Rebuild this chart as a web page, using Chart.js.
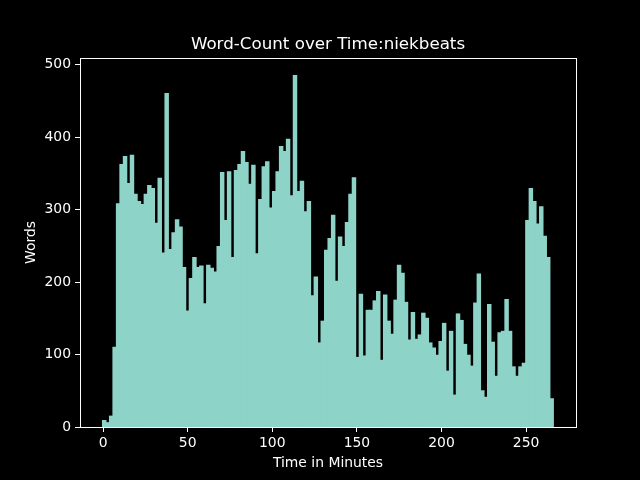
<!DOCTYPE html>
<html>
<head>
<meta charset="utf-8">
<script src="https://cdn.jsdelivr.net/npm/chart.js@4/dist/chart.umd.min.js"></script>
<style>
  html, body { margin: 0; padding: 0; background: #000; }
  canvas { display: block; }
</style>
</head>
<body>
<canvas id="chart" width="640" height="480"></canvas>
<script>
// words per bin
const counts = [
  9, 6, 15, 110, 308, 362, 373, 336, 375, 321,
  311, 307, 321, 333, 329, 281, 343, 240, 460, 245,
  268, 286, 276, 220, 160, 205, 234, 220, 222, 170,
  223, 219, 214, 249, 351, 285, 352, 234, 354, 362,
  380, 365, 335, 361, 239, 314, 359, 366, 302, 325,
  352, 387, 380, 397, 319, 485, 325, 339, 297, 311,
  181, 207, 116, 146, 244, 260, 292, 201, 262, 249,
  282, 321, 344, 96, 183, 98, 161, 161, 174, 187,
  92, 182, 146, 128, 175, 223, 212, 172, 120, 158,
  121, 127, 157, 150, 116, 109, 99, 118, 143, 77,
  132, 44, 156, 147, 114, 99, 84, 171, 211, 50,
  41, 169, 117, 70, 130, 132, 176, 132, 83, 70,
  83, 88, 285, 329, 311, 280, 304, 263, 234, 39
];
const binStart = -0.35;   // minutes
const binWidth = 2.05;    // minutes per bin
const xTicks = [0, 50, 100, 150, 200, 250];
const yTicks = [0, 100, 200, 300, 400, 500];

Chart.defaults.font.family = 'DejaVu Sans';
Chart.defaults.color = '#fff';

const points = counts.map((c, i) => ({ x: binStart + binWidth * (i + 0.5), y: c }));

// matplotlib draws a full box round the axes
const boxPlugin = {
  id: 'box',
  afterDraw(chart) {
    const a = chart.chartArea;
    const ctx = chart.ctx;
    ctx.save();
    ctx.strokeStyle = '#fff';
    ctx.lineWidth = 1;
    ctx.strokeRect(Math.round(a.left) + 0.5, Math.round(a.top) + 0.5,
      Math.round(a.right - a.left), Math.round(a.bottom - a.top));
    ctx.restore();
  }
};

new Chart(document.getElementById('chart'), {
  type: 'bar',
  data: {
    datasets: [{
      label: 'Words',
      data: points,
      backgroundColor: '#8dd3c7',
      borderWidth: 0,
      inflateAmount: 0.5,
      barPercentage: 1,
      categoryPercentage: 1
    }]
  },
  options: {
    responsive: false,
    animation: false,
    devicePixelRatio: 1,
    layout: { padding: { left: 0, right: 64, top: 0, bottom: 0 } },
    plugins: {
      legend: { display: false },
      tooltip: { enabled: false },
      title: {
        display: true,
        fullSize: false,
        text: 'Word-Count over Time:niekbeats',
        color: '#fff',
        font: { size: 16.7, weight: 'normal' },
        padding: { top: 35, bottom: 3 }
      }
    },
    scales: {
      x: {
        type: 'linear',
        offset: false,
        min: -13.65,
        max: 279.5,
        afterBuildTicks: (s) => { s.ticks = xTicks.map(v => ({ value: v })); },
        afterFit: (s) => { s.height = 53; },
        grid: { display: true, offset: false, drawOnChartArea: false, tickLength: 5, tickColor: '#fff' },
        border: { display: true, color: '#fff' },
        ticks: { color: '#fff', font: { size: 13.9 }, padding: 3, maxRotation: 0 },
        title: {
          display: true, text: 'Time in Minutes', color: '#fff',
          font: { size: 13.9 }, padding: { top: 0, bottom: 8 }
        }
      },
      y: {
        min: 0,
        max: 509,
        afterBuildTicks: (s) => { s.ticks = yTicks.map(v => ({ value: v })); },
        afterFit: (s) => { s.width = 80; },
        grid: { display: true, drawOnChartArea: false, tickLength: 5, tickColor: '#fff' },
        border: { display: true, color: '#fff' },
        ticks: { color: '#fff', font: { size: 13.9 }, padding: 4 },
        title: {
          display: true, text: 'Words', color: '#fff',
          font: { size: 13.9 }, padding: { top: 23, bottom: 23 }
        }
      }
    }
  },
  plugins: [boxPlugin]
});
</script>
</body>
</html>
